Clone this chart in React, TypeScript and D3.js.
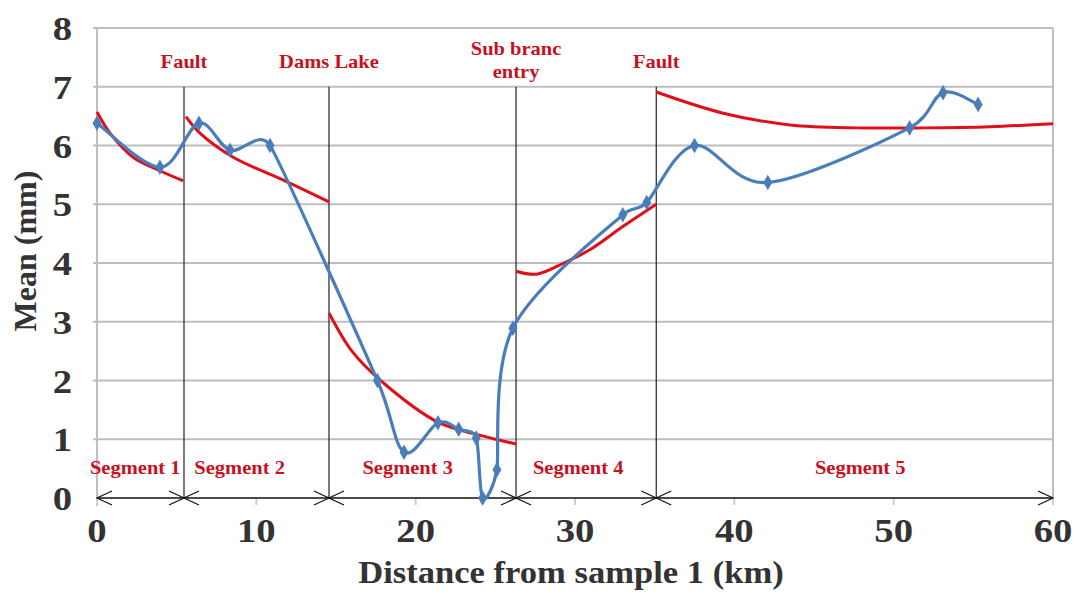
import React, { useRef, useEffect } from "react";
import * as d3 from "d3";

// sampled means along the river (km, mm)
const sampleKm = [0, 3.95, 6.4, 8.35, 10.86, 17.6, 19.27, 21.4, 22.7, 23.8, 24.2, 25.1, 26.1, 33.0, 34.5, 37.5, 42.1, 51.0, 53.1, 55.3];
const meanMm = [6.38, 5.63, 6.38, 5.92, 6.0, 2.0, 0.78, 1.28, 1.17, 1.02, 0.0, 0.48, 2.89, 4.82, 5.03, 6.0, 5.37, 6.3, 6.9, 6.7];

// trend lines per segment
const trend1Km = [0, 0.82, 2.26, 3.95, 5.4];
const trend1Mm = [6.57, 6.21, 5.8, 5.57, 5.4];
const trend2Km = [5.58, 6.46, 8.55, 11.7, 14.56];
const trend2Mm = [6.49, 6.21, 5.8, 5.41, 5.04];
const trend3Km = [14.56, 16, 17.8, 21.4, 24.0, 26.3];
const trend3Mm = [3.15, 2.5, 2.0, 1.29, 1.07, 0.92];
const trend4Km = [26.3, 27.6, 29.3, 30.9, 33, 35.1];
const trend4Mm = [3.86, 3.81, 4.0, 4.22, 4.62, 5.0];
const trend5Km = [35.1, 39.3, 43.5, 47.7, 51.9, 56.05, 60];
const trend5Mm = [6.91, 6.55, 6.35, 6.3, 6.3, 6.32, 6.37];

const boundaryKm = [5.46, 14.56, 26.3, 35.1];
const boundaryLabels = [["Fault"], ["Dams Lake"], ["Sub branc", "entry"], ["Fault"]];
const segmentLabels = ["Segment 1", "Segment 2", "Segment 3", "Segment 4", "Segment 5"];
const segmentLabelKm = [2.4, 8.95, 19.5, 30.2, 47.9];

const xTicks = [0, 10, 20, 30, 40, 50, 60];
const yTicks = [0, 1, 2, 3, 4, 5, 6, 7, 8];

const W = 1081;
const H = 594;
const FONT = "'Liberation Serif', 'Times New Roman', serif";
const RED_TEXT = "#C8101E";
const STRETCH = 1.14; // glyphs in the original are a bit wide

// spreadsheet-style smoothed line: tangent (P[i+1]-P[i-1])/6, capped at half the shorter neighbour segment
const smoothPath = (p: [number, number][]) => {
  const n = p.length;
  const dist = (a: [number, number], b: [number, number]) => Math.hypot(b[0] - a[0], b[1] - a[1]);
  const tangents = p.map((pt, i) => {
    const a = p[Math.max(0, i - 1)];
    const b = p[Math.min(n - 1, i + 1)];
    let tx = (b[0] - a[0]) / 6;
    let ty = (b[1] - a[1]) / 6;
    const len = Math.hypot(tx, ty);
    const lim = Math.min(
      i > 0 ? dist(p[i - 1], pt) / 2 : Infinity,
      i < n - 1 ? dist(pt, p[i + 1]) / 2 : Infinity
    );
    if (len > lim && len > 0) {
      tx *= lim / len;
      ty *= lim / len;
    }
    return [tx, ty];
  });
  const path = d3.path();
  path.moveTo(p[0][0], p[0][1]);
  for (let i = 0; i < n - 1; i++) {
    path.bezierCurveTo(
      p[i][0] + tangents[i][0],
      p[i][1] + tangents[i][1],
      p[i + 1][0] - tangents[i + 1][0],
      p[i + 1][1] - tangents[i + 1][1],
      p[i + 1][0],
      p[i + 1][1]
    );
  }
  return path.toString();
};

const App = () => {
  const ref = useRef<SVGSVGElement | null>(null);

  useEffect(() => {
    if (!ref.current) return;
    const svg = d3.select(ref.current);
    svg.selectAll("*").remove();

    const x = d3.scaleLinear().domain([0, 60]).range([97, 1053]);
    const y = d3.scaleLinear().domain([0, 8]).range([498, 28]);

    // wide bold serif text
    const label = (px: number, py: number, t: string, size: number, fill: string, anchor = "middle", sx = STRETCH) =>
      svg
        .append("text")
        .attr("transform", `translate(${px},${py}) scale(${sx},1)`)
        .attr("text-anchor", anchor)
        .attr("font-family", FONT)
        .attr("font-weight", "bold")
        .attr("font-size", size)
        .attr("fill", fill)
        .text(t);

    // grid
    svg
      .append("g")
      .selectAll("line")
      .data(yTicks.filter((d) => d > 0))
      .enter()
      .append("line")
      .attr("x1", x(0) - 4)
      .attr("x2", x(60))
      .attr("y1", (d) => y(d))
      .attr("y2", (d) => y(d))
      .attr("stroke", "#BEBEBE")
      .attr("stroke-width", 2);

    // left axis + right border
    svg.append("line").attr("x1", x(0)).attr("x2", x(0)).attr("y1", y(8)).attr("y2", y(0) + 8)
      .attr("stroke", "#BEBEBE").attr("stroke-width", 2);
    svg.append("line").attr("x1", x(60)).attr("x2", x(60)).attr("y1", y(8)).attr("y2", y(0) + 6)
      .attr("stroke", "#BEBEBE").attr("stroke-width", 2);

    // small x ticks
    svg
      .append("g")
      .selectAll("line")
      .data(xTicks)
      .enter()
      .append("line")
      .attr("x1", (d) => x(d))
      .attr("x2", (d) => x(d))
      .attr("y1", y(0))
      .attr("y2", y(0) + 7)
      .attr("stroke", "#CFCFCF")
      .attr("stroke-width", 2);

    // tick labels
    yTicks.forEach((d) => label(72, y(d) + 12, String(d), 34, "#333", "end"));
    xTicks.forEach((d) => label(x(d), 542, String(d), 34, "#333"));

    // axis titles
    label(571, 583, "Distance from sample 1 (km)", 32, "#333", "middle", 1.08);
    svg.append("text")
      .attr("transform", `translate(36, 251) rotate(-90)`)
      .attr("text-anchor", "middle")
      .attr("font-family", FONT)
      .attr("font-weight", "bold")
      .attr("font-size", 32)
      .attr("fill", "#333")
      .text("Mean (mm)");

    // boundary lines
    svg
      .append("g")
      .selectAll("line")
      .data(boundaryKm)
      .enter()
      .append("line")
      .attr("x1", (d) => x(d))
      .attr("x2", (d) => x(d))
      .attr("y1", y(7))
      .attr("y2", y(0))
      .attr("stroke", "#222")
      .attr("stroke-width", 1.2);

    // boundary labels
    boundaryLabels.forEach((lines, i) => {
      lines.forEach((t, j) => {
        label(x(boundaryKm[i]), (lines.length > 1 ? 55 : 68) + j * 23, t, 18, RED_TEXT);
      });
    });

    // segment labels
    segmentLabels.forEach((t, i) => label(x(segmentLabelKm[i]), 474, t, 18, RED_TEXT));

    // baseline with arrows
    const y0 = y(0);
    svg.append("line").attr("x1", x(0)).attr("x2", x(60)).attr("y1", y0).attr("y2", y0)
      .attr("stroke", "#111").attr("stroke-width", 1.5);
    const stops = [0, ...boundaryKm, 60];
    const arrows = svg.append("g").attr("fill", "none").attr("stroke", "#111").attr("stroke-width", 1.2);
    stops.forEach((k, i) => {
      const px = x(k);
      if (i > 0) arrows.append("path").attr("d", `M${px - 15},${y0 - 7}L${px},${y0}L${px - 15},${y0 + 7}`);
      if (i < stops.length - 1) arrows.append("path").attr("d", `M${px + 15},${y0 - 7}L${px},${y0}L${px + 15},${y0 + 7}`);
    });

    // trend lines
    const trendLine = d3
      .line<[number, number]>()
      .x((d) => x(d[0]))
      .y((d) => y(d[1]))
      .curve(d3.curveCatmullRom.alpha(0.5));
    const trends: [number[], number[]][] = [
      [trend1Km, trend1Mm],
      [trend2Km, trend2Mm],
      [trend3Km, trend3Mm],
      [trend4Km, trend4Mm],
      [trend5Km, trend5Mm],
    ];
    trends.forEach(([ks, ms]) => {
      svg.append("path")
        .attr("d", trendLine(ks.map((k, i) => [k, ms[i]] as [number, number])))
        .attr("fill", "none")
        .attr("stroke", "#E0101A")
        .attr("stroke-width", 3);
    });

    // sample line
    const pts = sampleKm.map((k, i) => [x(k), y(meanMm[i])] as [number, number]);
    svg.append("path")
      .attr("d", smoothPath(pts))
      .attr("fill", "none")
      .attr("stroke", "#4A7EBB")
      .attr("stroke-width", 3.2)
      .attr("stroke-linejoin", "round");

    svg
      .append("g")
      .selectAll("path")
      .data(pts)
      .enter()
      .append("path")
      .attr("transform", (d) => `translate(${d[0]},${d[1]})`)
      .attr("d", d3.symbol().type(d3.symbolDiamond).size(70)())
      .attr("fill", "#4A7EBB");
  }, []);

  return (
    <svg
      ref={ref}
      width={W}
      height={H}
      viewBox={`0 0 ${W} ${H}`}
      style={{ position: "absolute", left: 0, top: 0, background: "#fff" }}
    />
  );
};

export default App;
